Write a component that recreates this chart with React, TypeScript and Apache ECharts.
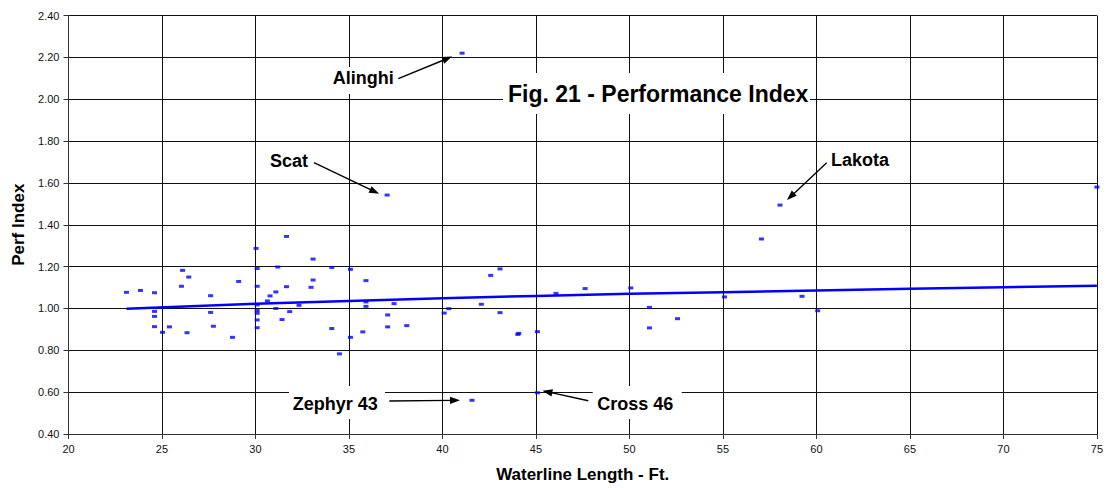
import { useEffect, useRef } from "react";
import * as echarts from "echarts";

// Waterline length (ft) and performance index of each boat
const waterline = [
  23.1, 23.85, 24.6, 24.6, 24.6, 24.6, 25.03, 25.4, 26.04, 26.1, 26.34, 26.43, 27.6, 27.6, 27.75, 28.77,
  29.1, 30.03, 30.09, 30.09, 30.09, 30.09, 30.09, 30.09, 30.09, 30.64, 30.78, 31.09, 31.09, 31.19, 31.42,
  31.66, 31.66, 31.83, 32.33, 32.97, 33.08, 33.08, 34.08, 34.08, 34.49, 35.08, 35.08, 35.74, 35.91, 35.91,
  35.91, 37.04, 37.07, 37.07, 37.41, 38.09, 40.09, 40.34, 41.05, 41.58, 42.08, 42.58, 43.08, 43.08, 44.03,
  44.08, 45.08, 45.08, 46.07, 47.63, 50.07, 51.07, 51.07, 52.57, 55.08, 57.06, 58.05, 59.23, 60.07, 75.0,
];
const perfIndex = [
  1.077, 1.086, 1.075, 0.986, 0.962, 0.913, 0.886, 0.912, 1.106, 1.182, 0.884, 1.15, 1.061, 0.981, 0.915, 0.862,
  1.129, 1.287, 1.191, 1.106, 1.017, 0.99, 0.977, 0.945, 0.908, 1.036, 1.06, 1.079, 1.0, 1.198, 0.947,
  1.344, 1.104, 0.985, 1.015, 1.101, 1.136, 1.236, 1.196, 0.904, 0.783, 1.187, 0.862, 0.888, 1.133, 1.031,
  1.01, 1.542, 0.969, 0.912, 1.023, 0.918, 0.978, 0.999, 2.22, 0.561, 1.02, 1.158, 1.189, 0.98, 0.876,
  0.881, 0.889, 0.597, 1.072, 1.095, 1.098, 1.005, 0.907, 0.951, 1.055, 1.332, 1.494, 1.058, 0.989, 1.58,
];

// Logarithmic trend line
const trendX = [23.1, 30, 35, 40, 45, 50, 55, 60, 65, 70, 75];
const trendY = [0.998, 1.022, 1.036, 1.049, 1.06, 1.07, 1.078, 1.086, 1.094, 1.101, 1.108];

// Named boats (callouts)
const calloutNames = ["Alinghi", "Scat", "Lakota", "Zephyr 43", "Cross 46"];
const calloutLength = [41.05, 37.04, 58.05, 41.58, 45.08];
const calloutPerf = [2.22, 1.542, 1.494, 0.561, 0.597];

// Axis ticks
const xMin = 20, xMax = 75, xStep = 5;
const yMin = 0.4, yMax = 2.4, yStep = 0.2;

const titleText = "Fig. 21 - Performance Index";
const xTitle = "Waterline Length - Ft.";
const yTitle = "Perf Index";

// Layout of callouts (pixels): label left/centre-y, optional white box, arrow start, tip offset from point
const calloutLayout = [
  { tx: 332.7, ty: 77.5, box: [328, 67, 68, 27], ax: 398.3, ay: 78.7, dx: -10, dy: 3.4 },
  { tx: 270, ty: 160.7, box: null, ax: 314, ay: 162.7, dx: -8, dy: -1.3 },
  { tx: 831, ty: 160.3, box: null, ax: 826.7, ay: 162.7, dx: 7, dy: -5 },
  { tx: 292.7, ty: 403.8, box: [289, 386, 96, 33], ax: 389.3, ay: 401, dx: -12, dy: 0 },
  { tx: 597.3, ty: 403.7, box: [592.7, 386, 89, 33], ax: 588.3, ay: 400.7, dx: 5, dy: -2 },
];

const FONT = 'Arial, "Liberation Sans", Helvetica, sans-serif';

export default function App() {
  const ref = useRef<HTMLDivElement>(null);
  useEffect(() => {
    const chart = echarts.init(ref.current!, null, { renderer: "svg" });
    const points = waterline.map((x, i) => [x, perfIndex[i]]);
    const trend = trendX.map((x, i) => [x, trendY[i]]);
    const gridColor = "#111";
    chart.setOption({
      animation: false,
      backgroundColor: "#ffffff",
      grid: { left: 68.5, top: 15.5, width: 1028.5, height: 419, containLabel: false },
      xAxis: {
        type: "value",
        min: xMin,
        max: xMax,
        interval: xStep,
        axisLine: { show: true, onZero: false, lineStyle: { color: "#333", width: 1 } },
        axisTick: { show: true, length: 5, lineStyle: { color: "#333" } },
        axisLabel: { fontSize: 11, color: "#111", margin: 9, fontFamily: FONT },
        splitLine: { show: true, lineStyle: { color: gridColor, width: 1 } },
        name: xTitle,
        nameLocation: "middle",
        nameGap: 32,
        nameTextStyle: { fontSize: 17, fontWeight: "bold", color: "#000", fontFamily: FONT },
      },
      yAxis: {
        type: "value",
        min: yMin,
        max: yMax,
        interval: yStep,
        axisLine: { show: true, onZero: false, lineStyle: { color: "#333", width: 1 } },
        axisTick: { show: true, length: 5, lineStyle: { color: "#333" } },
        axisLabel: {
          fontSize: 11,
          color: "#111",
          margin: 9,
          fontFamily: FONT,
          formatter: (v: number) => v.toFixed(2),
        },
        splitLine: { show: true, lineStyle: { color: gridColor, width: 1 } },
        name: yTitle,
        nameLocation: "middle",
        nameRotate: 90,
        nameGap: 42,
        nameTextStyle: { fontSize: 17, fontWeight: "bold", color: "#000", fontFamily: FONT },
      },
      series: [
        {
          type: "line",
          data: trend,
          showSymbol: false,
          symbol: "none",
          lineStyle: { color: "#0000ff", width: 2.5 },
          z: 2,
        },
        {
          type: "scatter",
          data: points,
          symbol: "rect",
          symbolSize: [5, 3],
          itemStyle: { color: "#0000ff" },
          z: 3,
        },
      ],
    });

    const graphics: any[] = [];
    // Title with white box
    graphics.push({
      type: "rect",
      shape: { x: 503, y: 73, width: 307, height: 41 },
      style: { fill: "#fff" },
      z: 100,
    });
    graphics.push({
      type: "text",
      x: 508,
      y: 93.8,
      style: {
        text: titleText,
        fontSize: 23,
        fontWeight: "bold",
        fontFamily: FONT,
        fill: "#000",
        align: "left",
        verticalAlign: "middle",
      },
      z: 101,
    });

    calloutNames.forEach((name, i) => {
      const L = calloutLayout[i];
      const p = chart.convertToPixel({ xAxisIndex: 0, yAxisIndex: 0 }, [calloutLength[i], calloutPerf[i]]) as number[];
      const tipX = p[0] + L.dx;
      const tipY = p[1] + L.dy;
      if (L.box) {
        graphics.push({
          type: "rect",
          shape: { x: L.box[0], y: L.box[1], width: L.box[2], height: L.box[3] },
          style: { fill: "#fff" },
          z: 100,
        });
      }
      graphics.push({
        type: "text",
        x: L.tx,
        y: L.ty,
        style: {
          text: name,
          fontSize: 18,
          fontWeight: "bold",
          fontFamily: FONT,
          fill: "#000",
          align: "left",
          verticalAlign: "middle",
        },
        z: 101,
      });
      const vx = tipX - L.ax;
      const vy = tipY - L.ay;
      const len = Math.sqrt(vx * vx + vy * vy);
      const ux = vx / len;
      const uy = vy / len;
      const headLen = 10;
      const headHalf = 3.6;
      const bx = tipX - ux * headLen;
      const by = tipY - uy * headLen;
      graphics.push({
        type: "line",
        shape: { x1: L.ax, y1: L.ay, x2: bx + ux * 1, y2: by + uy * 1 },
        style: { stroke: "#000", lineWidth: 1.4 },
        z: 101,
      });
      graphics.push({
        type: "polygon",
        shape: {
          points: [
            [tipX, tipY],
            [bx - uy * headHalf, by + ux * headHalf],
            [bx + uy * headHalf, by - ux * headHalf],
          ],
        },
        style: { fill: "#000" },
        z: 101,
      });
    });

    chart.setOption({ graphic: graphics });

    return () => {
      chart.dispose();
    };
  }, []);

  return (
    <div
      ref={ref}
      style={{ position: "absolute", left: 0, top: 0, width: 1106, height: 488 }}
    />
  );
}
